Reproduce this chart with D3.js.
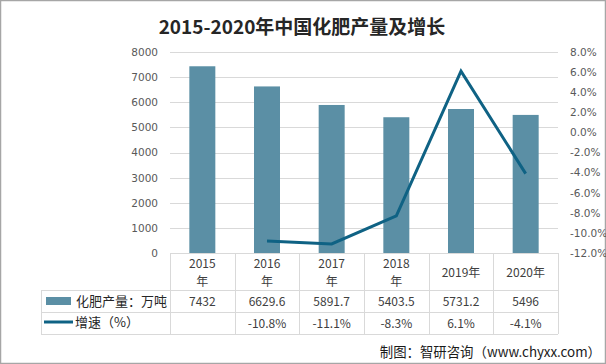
<!DOCTYPE html>
<html><head><meta charset="utf-8">
<script src="https://cdn.jsdelivr.net/npm/d3@7"></script>
<style>body{margin:0;background:#fff}svg{display:block}</style>
</head><body>
<script>
const years = ["2015","2016","2017","2018","2019","2020"];
const headerLabels = [["2015","年"],["2016","年"],["2017","年"],["2018","年"],["2019年"],["2020年"]];
const production = [7432, 6629.6, 5891.7, 5403.5, 5731.2, 5496];
const productionLabels = ["7432","6629.6","5891.7","5403.5","5731.2","5496"];
const growth = [null, -10.8, -11.1, -8.3, 6.1, -4.1];
const growthLabels = ["", "-10.8%", "-11.1%", "-8.3%", "6.1%", "-4.1%"];
const leftTicks = [0,1000,2000,3000,4000,5000,6000,7000,8000];
const rightTicks = [-12,-10,-8,-6,-4,-2,0,2,4,6,8];
const seriesNames = ["化肥产量：万吨","增速（%）"];

const W=606,H=364;
const barColor="#5B8FA5", lineColor="#0F6284";
const svg=d3.select("body").append("svg").attr("width",W).attr("height",H);
svg.append("rect").attr("x",0.5).attr("y",0.5).attr("width",W-1).attr("height",H-1).attr("fill","#fff").attr("stroke","#a6a6a6").attr("stroke-width",1.5);

svg.append("text").attr("x",302).attr("y",34).attr("text-anchor","middle")
  .attr("font-family","'Noto Sans CJK SC'").attr("font-weight","bold").attr("font-size",19).attr("fill","#262626")
  .text("2015-2020年中国化肥产量及增长");

const x0=170,x1=558,yTop=52,yBot=253;
const x=d3.scaleBand().domain(years).range([x0,x1]);
const yL=d3.scaleLinear().domain([0,8000]).range([yBot,yTop]);
const yR=d3.scaleLinear().domain([-12,8]).range([yBot,yTop]);

svg.append("g").selectAll("line").data(leftTicks.slice(1)).join("line")
  .attr("x1",x0).attr("x2",x1).attr("y1",d=>Math.round(yL(d))+0.5).attr("y2",d=>Math.round(yL(d))+0.5)
  .attr("stroke","#d9d9d9").attr("stroke-width",1);

const axL=svg.append("g").attr("transform",`translate(${x0},0)`)
  .call(d3.axisLeft(yL).tickValues(leftTicks).tickSize(0).tickPadding(12).tickFormat(d3.format("d")));
axL.select(".domain").remove();
axL.selectAll("text").attr("font-family","'DejaVu Sans'").attr("font-size",10.5).attr("fill","#595959");

const axR=svg.append("g").attr("transform",`translate(${x1},0)`)
  .call(d3.axisRight(yR).tickValues(rightTicks).tickSize(0).tickPadding(12).tickFormat(d=>d.toFixed(1)+"%"));
axR.select(".domain").remove();
axR.selectAll("text").attr("font-family","'DejaVu Sans'").attr("font-size",10.5).attr("fill","#595959");

const bw=26;
svg.append("g").selectAll("rect").data(production).join("rect")
  .attr("x",(d,i)=>x(years[i])+x.bandwidth()/2-bw/2).attr("width",bw)
  .attr("y",d=>yL(d)).attr("height",d=>yBot-yL(d)).attr("fill",barColor);

const pts=growth.map((g,i)=>[years[i],g]).filter(p=>p[1]!==null);
svg.append("path").datum(pts)
  .attr("d",d3.line().x(p=>x(p[0])+x.bandwidth()/2).y(p=>yR(p[1])))
  .attr("fill","none").attr("stroke",lineColor).attr("stroke-width",3);

const tl=41;
const tg=svg.append("g").attr("stroke","#d9d9d9").attr("stroke-width",1);
tg.append("line").attr("x1",x0).attr("x2",x1).attr("y1",yBot+0.5).attr("y2",yBot+0.5);
[290,312,334].forEach(yv=>tg.append("line").attr("x1",tl).attr("x2",x1).attr("y1",yv+0.5).attr("y2",yv+0.5));
tg.append("line").attr("x1",tl+0.5).attr("x2",tl+0.5).attr("y1",290).attr("y2",334);
years.forEach(yr=>tg.append("line").attr("x1",Math.round(x(yr))+0.5).attr("x2",Math.round(x(yr))+0.5).attr("y1",yBot).attr("y2",334));
tg.append("line").attr("x1",x1+0.5).attr("x2",x1+0.5).attr("y1",yBot).attr("y2",334);

const tf="'Noto Sans CJK SC'";
const txt=svg.append("g").attr("font-family",tf).attr("font-size",12).attr("fill","#404040").attr("text-anchor","middle");
headerLabels.forEach((lab,i)=>{
  const cx=x(years[i])+x.bandwidth()/2;
  if(lab.length===2){
    txt.append("text").attr("x",cx).attr("y",268).text(lab[0]);
    txt.append("text").attr("x",cx).attr("y",286).text(lab[1]);
  } else {
    txt.append("text").attr("x",cx).attr("y",277).text(lab[0]);
  }
  txt.append("text").attr("x",cx).attr("y",306).text(productionLabels[i]);
  txt.append("text").attr("x",cx).attr("y",328).text(growthLabels[i]);
});
svg.append("rect").attr("x",46).attr("y",297).attr("width",25).attr("height",8).attr("fill",barColor);
svg.append("line").attr("x1",44).attr("x2",73).attr("y1",322).attr("y2",322).attr("stroke",lineColor).attr("stroke-width",3);
svg.append("text").attr("x",76).attr("y",306).attr("font-family",tf).attr("font-size",13).attr("fill","#262626").text(seriesNames[0]);
svg.append("text").attr("x",75).attr("y",327).attr("font-family",tf).attr("font-size",13).attr("fill","#262626").text(seriesNames[1]);

svg.append("text").attr("x",601).attr("y",357).attr("text-anchor","end").attr("font-family",tf).attr("font-size",13.4).attr("fill","#1a1a1a").text("制图：智研咨询（www.chyxx.com）");
</script>
</body></html>
